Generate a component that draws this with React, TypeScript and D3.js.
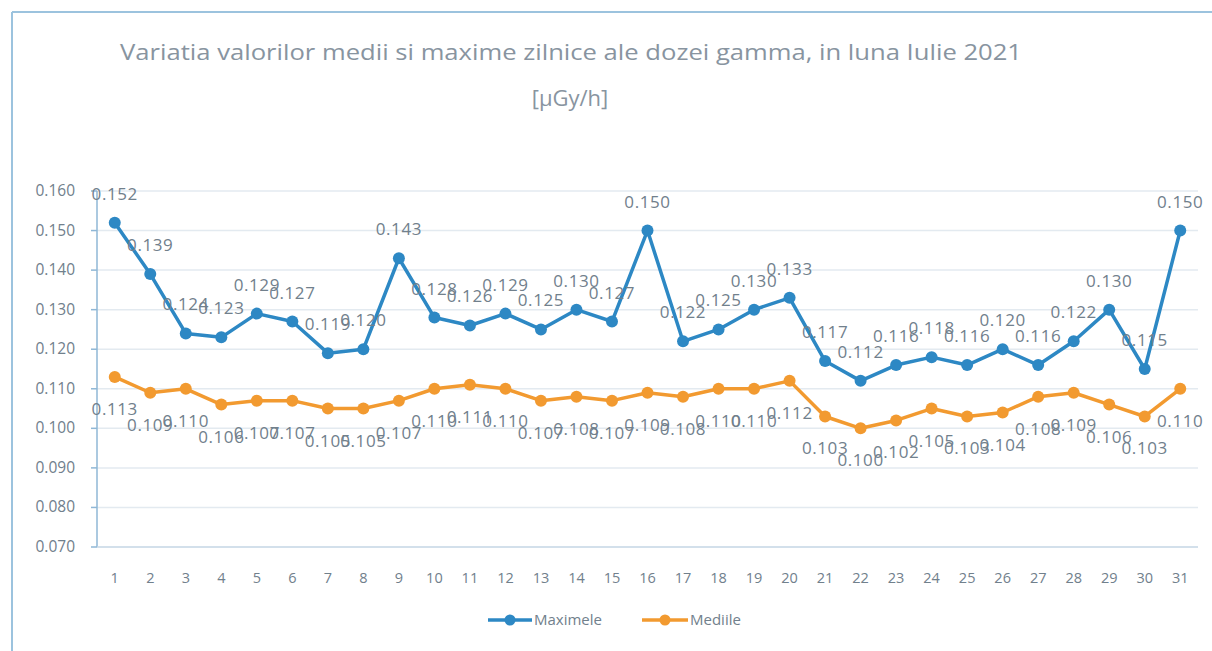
import * as d3 from "d3";

const days = Array.from({ length: 31 }, (_, i) => String(i + 1));

const maximele = [
  0.152, 0.139, 0.124, 0.123, 0.129, 0.127, 0.119, 0.12, 0.143, 0.128, 0.126,
  0.129, 0.125, 0.13, 0.127, 0.15, 0.122, 0.125, 0.13, 0.133, 0.117, 0.112,
  0.116, 0.118, 0.116, 0.12, 0.116, 0.122, 0.13, 0.115, 0.15,
];

const mediile = [
  0.113, 0.109, 0.11, 0.106, 0.107, 0.107, 0.105, 0.105, 0.107, 0.11, 0.111,
  0.11, 0.107, 0.108, 0.107, 0.109, 0.108, 0.11, 0.11, 0.112, 0.103, 0.1,
  0.102, 0.105, 0.103, 0.104, 0.108, 0.109, 0.106, 0.103, 0.11,
];

const yTicks = [0.07, 0.08, 0.09, 0.1, 0.11, 0.12, 0.13, 0.14, 0.15, 0.16];

const W = 1212;
const H = 651;
const M = { left: 97, right: 1198, top: 191, bottom: 547 };
const BLUE = "#2d88c4";
const ORANGE = "#f29a30";
const TXT = "#71808c";
const FONT = "'Open Sans', 'Liberation Sans', sans-serif";

export default function App() {
  const x = d3.scaleBand<string>().domain(days).range([M.left, M.right]);
  const cx = (d: string) => x(d)! + x.bandwidth() / 2;
  const y = d3.scaleLinear().domain([0.07, 0.16]).range([M.bottom, M.top]);
  const fmt = d3.format(".3f");

  const line = d3
    .line<number>()
    .x((_, i) => cx(days[i]))
    .y((d) => y(d));

  const series = [
    { name: "Maximele", values: maximele, color: BLUE, dy: -23 },
    { name: "Mediile", values: mediile, color: ORANGE, dy: 38 },
  ];

  // legend positions
  const legend = [
    { x1: 488, x2: 532, tx: 534 },
    { x1: 642, x2: 688, tx: 690 },
  ];

  return (
    <svg
      width={W}
      height={H}
      style={{ position: "absolute", left: 0, top: 0, background: "#fff" }}
      fontFamily={FONT}
    >
      {/* chart frame */}
      <line x1={12} x2={W} y1={12} y2={12} stroke="#9cc3de" strokeWidth={2} />
      <line x1={12} x2={12} y1={12} y2={H} stroke="#9cc3de" strokeWidth={2} />

      <text
        x={120}
        y={60}
        fontSize={22}
        fill="#8894a0"
        textLength={902}
        lengthAdjust="spacingAndGlyphs"
      >
        Variatia valorilor medii si maxime zilnice ale dozei gamma, in luna Iulie 2021
      </text>
      <text x={570} y={106} textAnchor="middle" fontSize={22} fill="#8894a0">
        [µGy/h]
      </text>

      {/* grid */}
      {yTicks.map((t) => (
        <g key={t}>
          {t > 0.07 && (
            <line x1={M.left} x2={M.right} y1={y(t)} y2={y(t)} stroke="#e3eaf0" strokeWidth={1.5} />
          )}
          <line x1={M.left - 6} x2={M.left} y1={y(t)} y2={y(t)} stroke="#8fb7d6" strokeWidth={1.5} />
          <text x={M.left - 22} y={y(t) + 5} textAnchor="end" fontSize={15.5} fill={TXT}>
            {fmt(t)}
          </text>
        </g>
      ))}

      {/* axes */}
      <line x1={M.left} x2={M.left} y1={M.top} y2={M.bottom} stroke="#8fb7d6" strokeWidth={1.5} />
      <line x1={M.left} x2={M.right} y1={M.bottom} y2={M.bottom} stroke="#c5d6e4" strokeWidth={1.5} />
      {days.map((d) => (
        <text key={d} x={cx(d)} y={583} textAnchor="middle" fontSize={14.5} fill={TXT}>
          {d}
        </text>
      ))}

      {/* series */}
      {series.map((s) => (
        <g key={s.name}>
          <path d={line(s.values)!} fill="none" stroke={s.color} strokeWidth={3.5} strokeLinejoin="round" />
          {s.values.map((v, i) => (
            <circle key={i} cx={cx(days[i])} cy={y(v)} r={6} fill={s.color} />
          ))}
          {s.values.map((v, i) => (
            <text
              key={"l" + i}
              x={cx(days[i])}
              y={y(v) + s.dy}
              textAnchor="middle"
              fontSize={17}
              letterSpacing={0.6}
              fill={TXT}
            >
              {fmt(v)}
            </text>
          ))}
        </g>
      ))}

      {/* legend */}
      {series.map((s, i) => {
        const l = legend[i];
        return (
          <g key={s.name}>
            <line x1={l.x1} x2={l.x2} y1={620} y2={620} stroke={s.color} strokeWidth={3.5} />
            <circle cx={(l.x1 + l.x2) / 2} cy={620} r={5.5} fill={s.color} />
            <text x={l.tx} y={625} fontSize={15} fill={TXT}>
              {s.name}
            </text>
          </g>
        );
      })}
    </svg>
  );
}
